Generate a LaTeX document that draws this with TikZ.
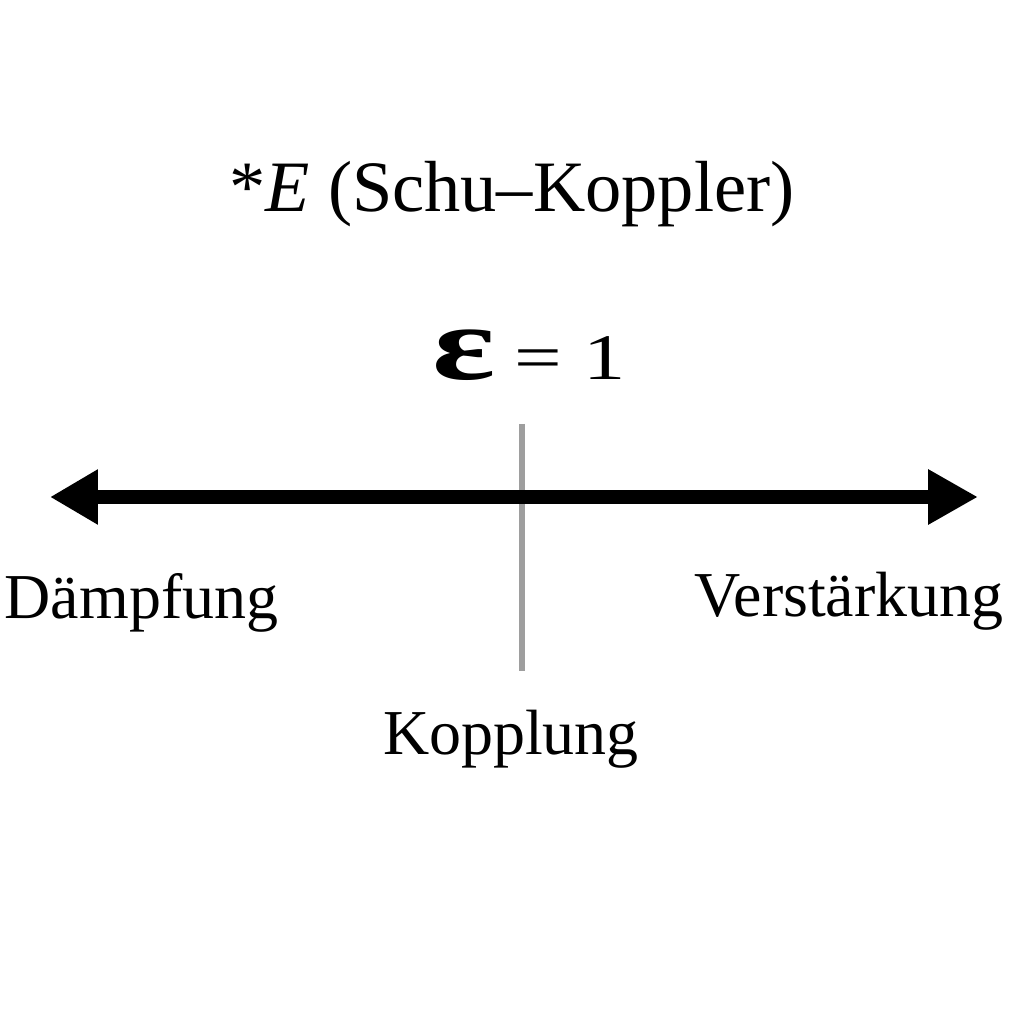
\documentclass[tikz,border=0pt]{standalone}
\usepackage{fontspec}
\setmainfont{Liberation Serif}
\usepackage{tikz}
\usetikzlibrary{arrows.meta}
\usetikzlibrary{positioning}

\tikzset{
  label text/.style={inner sep=0pt, anchor=base, font=\fontsize{18.2pt}{20pt}\selectfont},
  axis line/.style={line width=0.14cm, {Triangle[length=0.48cm,width=0.52cm]}-{Triangle[length=0.50cm,width=0.52cm]}},
  mark line/.style={line width=0.06cm, color=black!38}
}

\begin{document}
\begin{tikzpicture}
  \useasboundingbox (0,0) rectangle (10.24,10.24);
  % title and value
  \node[label text, font=\fontsize{20.6pt}{22pt}\selectfont] (title) at (5.12,8.12) {*\textit{E} (Schu–Koppler)};
  \node[label text, font=\fontsize{18.5pt}{20pt}\selectfont] (value) at (5.29,6.44)
     {\scalebox{1.4}[1]{\fontsize{30pt}{30pt}\selectfont\bfseries ε}\hspace{0.3em}\scalebox{1.3}[1]{= 1}};
  % axis
  \coordinate (tick top) at (5.22,6.00);
  \coordinate (tick bottom) at (5.22,3.53);
  \draw[mark line] (tick top) -- (tick bottom);
  \coordinate (axis left) at (0.50,5.27);
  \coordinate (axis right) at (9.78,5.27);
  \draw[axis line] (axis left) -- (axis right);
  % labels
  \node[label text] (damping) at (1.415,4.05) {Dämpfung};
  \node[label text] (gain) at (8.49,4.07) {Verstärkung};
  \node[label text] (coupling) at (5.11,2.69) {Kopplung};
\end{tikzpicture}
\end{document}
